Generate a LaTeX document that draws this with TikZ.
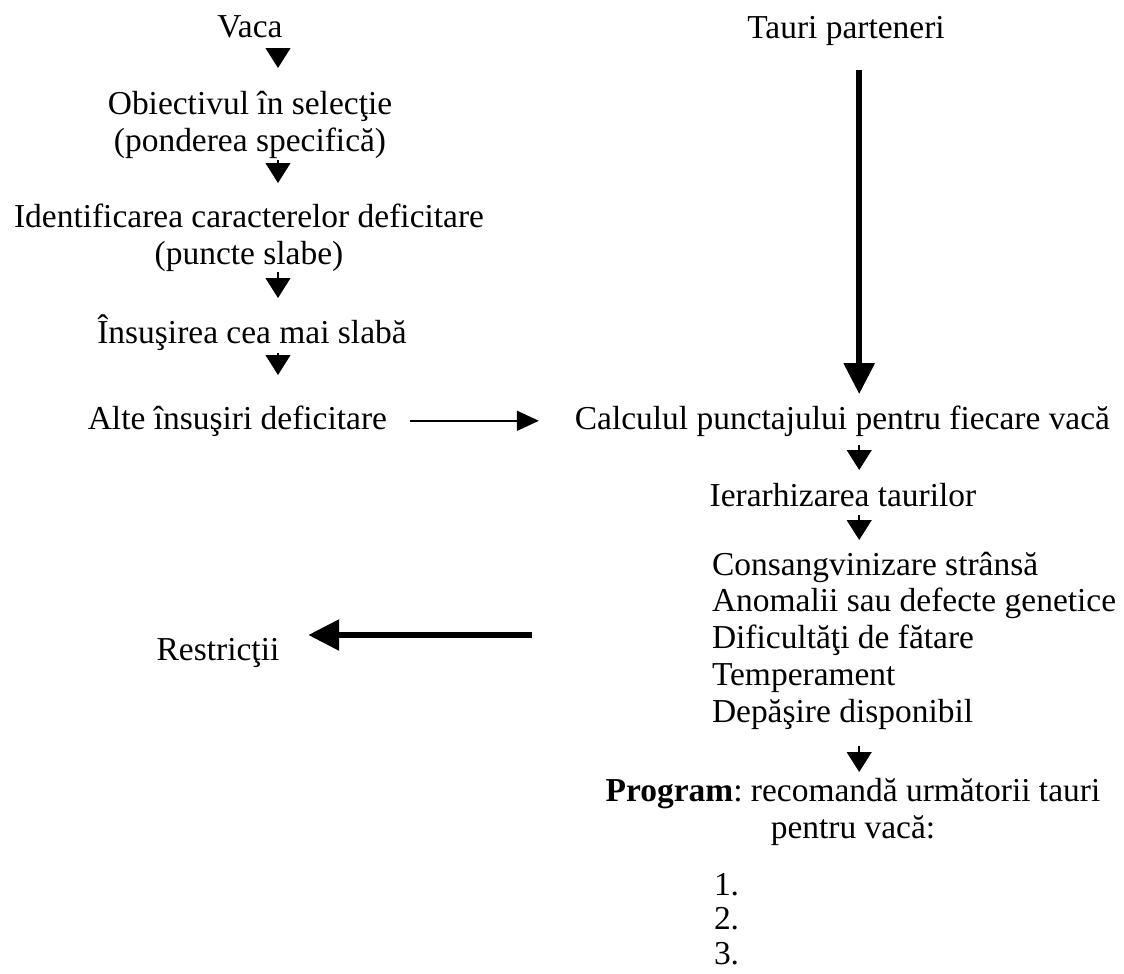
\documentclass[tikz,border=0pt]{standalone}
\usepackage{fontspec}
\setmainfont{Liberation Serif}
\usetikzlibrary{arrows.meta}

\tikzset{
  txt/.style={inner sep=0pt, outer sep=0pt, font=\fontsize{23.8}{26.1}\selectfont\frenchspacing},
  flow/.style={-{Triangle[length=0.5cm,width=0.62cm]}, line width=1.2pt},
  sideflow/.style={-{Triangle[length=0.55cm,width=0.5cm]}, line width=1.2pt},
  bigflow/.style={-{Triangle[length=0.77cm,width=0.75cm]}, line width=4pt},
}

\begin{document}
\begin{tikzpicture}
    \useasboundingbox (0,0) rectangle (28.1,-24.35);
    \coordinate (lx) at (6.95,0);
    \coordinate (rx) at (21.48,0);

    % vaca
    \node[txt, anchor=base] (vaca) at (6.25,-0.925) {Vaca};
    \node[txt, anchor=base, align=center] (obiectiv) at (6.25,-3.775) {Obiectivul în selecţie\\(ponderea specifică)};
    \node[txt, anchor=base, align=center] (identif) at (6.225,-6.6) {Identificarea caracterelor deficitare\\(puncte slabe)};
    \node[txt, anchor=base] (slaba) at (6.3,-8.575) {Însuşirea cea mai slabă};
    \node[txt, anchor=base east] (alte) at (9.675,-10.725) {Alte însuşiri deficitare};

    \draw[flow, shorten <=0.275cm, shorten >=2.075cm] (vaca.base -| lx) -- (obiectiv.base -| lx);
    \draw[flow, shorten <=0.225cm, shorten >=2.025cm] (obiectiv.base -| lx) -- (identif.base -| lx);
    \draw[flow, shorten <=0.2cm, shorten >=1.125cm] (identif.base -| lx) -- (slaba.base -| lx);
    \draw[flow, shorten <=0.25cm, shorten >=1.35cm] (slaba.base -| lx) -- (alte.base -| lx);

    % tauri
    \node[txt, anchor=base] (tauri) at (21.15,-0.95) {Tauri parteneri};
    \node[txt, anchor=base] (calcul) at (21.06,-10.725) {Calculul punctajului pentru fiecare vacă};
    \node[txt, anchor=base] (ierarh) at (21.075,-12.65) {Ierarhizarea taurilor};
    \node[txt, anchor=base west, align=left] (criterii) at (17.8,-18.05) {Consangvinizare strânsă\\Anomalii sau defecte genetice\\Dificultăţi de fătare\\Temperament\\Depăşire disponibil};
    \node[txt, anchor=base, align=center] (program) at (21.325,-20.95) {\textbf{Program}: recomandă următorii tauri\\pentru vacă:};
    \node[txt, anchor=base west, align=left, font=\fontsize{23.8}{24.2}\selectfont] (lista) at (17.85,-24.1) {1.\\2.\\3.};

    \draw[bigflow, shorten <=0.8cm, shorten >=0.875cm] (tauri.base -| rx) -- (calcul.base -| rx);
    \draw[sideflow, shorten <=0.575cm, shorten >=0.9cm] (alte.east) -- (alte.east -| calcul.west);
    \draw[flow, shorten <=0.4cm, shorten >=0.9cm] (calcul.base -| rx) -- (ierarh.base -| rx);
    \draw[flow, shorten <=0.225cm, shorten >=4.55cm] (ierarh.base -| rx) -- (criterii.base -| rx);
    \draw[flow, shorten <=0.6cm, shorten >=1.65cm] (criterii.base -| rx) -- (program.base -| rx);

    % restrictii
    \node[txt, anchor=base] (restrict) at (5.45,-16.5) {Restricţii};
    \coordinate (rtail) at (13.3,-15.875);
    \draw[bigflow, shorten >=0.725cm] (rtail) -- (rtail -| restrict.east);
\end{tikzpicture}
\end{document}
